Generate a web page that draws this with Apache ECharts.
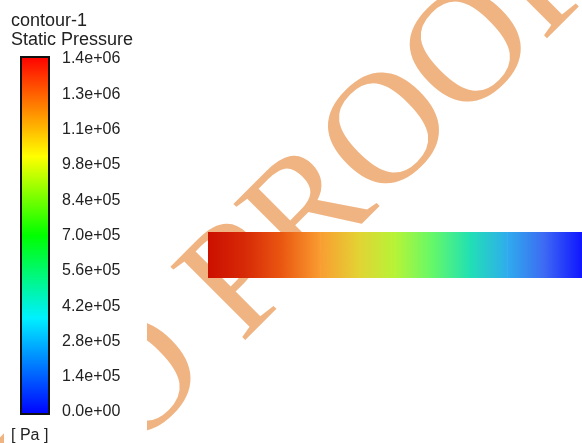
<!DOCTYPE html>
<html>
<head>
<meta charset="utf-8">
<script src="https://cdn.jsdelivr.net/npm/echarts@6/dist/echarts.min.js"></script>
<style>
  html, body { margin: 0; padding: 0; background: #ffffff; }
  #chart { width: 582px; height: 443px; }
</style>
</head>
<body>
<div id="chart"></div>
<script>
// Static pressure range shown on the legend bar [Pa]
const pressureMin = 0;
const pressureMax = 1.4e6;
const tickInterval = 1.4e5;
const tickLabels = ['0.0e+00', '1.4e+05', '2.8e+05', '4.2e+05', '5.6e+05', '7.0e+05',
                    '8.4e+05', '9.8e+05', '1.1e+06', '1.3e+06', '1.4e+06'];

// Stations along the pipe (axial position, mm) and static pressure there [Pa]
const pipeX = [0, 10, 20, 30, 40, 50, 60, 70, 80, 90, 100];
const pipePressure = [1.37e6, 1.24e6, 1.10e6, 0.96e6, 0.83e6, 0.70e6, 0.56e6, 0.43e6, 0.29e6, 0.15e6, 0.02e6];

// Legend colour map (normalised pressure -> colour)
const legendStops = [
  [0.00, '#0000ff'], [0.27, '#00f0ff'], [0.50, '#00ff00'], [0.72, '#ffff00'], [1.00, '#ff0000']
];
// Lit surface colour map used on the pipe wall
const surfaceStops = [
  [0.000, [12, 18, 255]], [0.014, [15, 20, 255]], [0.071, [40, 60, 250]], [0.123, [70, 125, 240]],
  [0.174, [60, 150, 250]], [0.226, [40, 185, 230]], [0.277, [30, 215, 200]], [0.329, [35, 230, 165]],
  [0.368, [70, 245, 130]], [0.432, [130, 250, 80]], [0.496, [180, 245, 55]], [0.561, [215, 225, 50]],
  [0.626, [240, 195, 55]], [0.664, [250, 170, 55]], [0.716, [248, 140, 40]], [0.767, [240, 100, 20]],
  [0.844, [220, 55, 10]], [0.922, [210, 30, 5]], [0.979, [204, 16, 0]], [1.000, [200, 12, 0]]
];

function surfaceColor(p) {
  const t = Math.max(0, Math.min(1, (p - pressureMin) / (pressureMax - pressureMin)));
  for (let i = 1; i < surfaceStops.length; i++) {
    const a = surfaceStops[i - 1], b = surfaceStops[i];
    if (t <= b[0]) {
      const f = (t - a[0]) / (b[0] - a[0] || 1);
      const c = a[1].map((v, k) => Math.round(v + (b[1][k] - v) * f));
      return 'rgb(' + c.join(',') + ')';
    }
  }
  const last = surfaceStops[surfaceStops.length - 1][1];
  return 'rgb(' + last.join(',') + ')';
}

const textFont = '"Liberation Sans", Arial, sans-serif';
const stampFont = '"Liberation Serif", "Times New Roman", serif';
const stampColor = '#f0b482';
const stampSize = 160;
const stampAngle = Math.PI / 4;
const stampAnchor = [350, 176];

const chart = echarts.init(document.getElementById('chart'), null, { renderer: 'canvas' });

chart.setOption({
  animation: false,
  backgroundColor: '#ffffff',
  title: {
    text: 'contour-1\nStatic Pressure',
    left: 6,
    top: 7,
    textStyle: { fontFamily: textFont, fontSize: 18, fontWeight: 'normal', color: '#222', lineHeight: 19 }
  },
  graphic: [
    // diagonal stamp, split at the first "O" of PROOF
    {
      type: 'text', x: stampAnchor[0], y: stampAnchor[1], rotation: stampAngle, z: -10, silent: true,
      style: { text: 'DO PR', fill: stampColor, fontFamily: stampFont, fontSize: stampSize, align: 'right', verticalAlign: 'middle' }
    },
    {
      type: 'text', x: stampAnchor[0], y: stampAnchor[1], rotation: stampAngle, z: -10, silent: true,
      style: { text: 'OOF', fill: stampColor, fontFamily: stampFont, fontSize: stampSize, align: 'left', verticalAlign: 'middle' }
    },
    // legend panel background
    {
      type: 'rect', z: -5, silent: true,
      shape: { x: 4, y: 0, width: 143, height: 443 },
      style: { fill: '#ffffff' }
    },
    {
      type: 'text', x: 11, y: 436, z: 10,
      style: { text: '[ Pa ]', fill: '#222', fontFamily: textFont, fontSize: 16, align: 'left', verticalAlign: 'middle' }
    }
  ],
  grid: [
    { left: 21, top: 59, width: 28, height: 353 },
    { left: 208, top: 232, right: 0, height: 46 }
  ],
  xAxis: [
    { gridIndex: 0, type: 'value', min: 0, max: 1, show: false },
    { gridIndex: 1, type: 'value', min: pipeX[0], max: pipeX[pipeX.length - 1], show: false }
  ],
  yAxis: [
    {
      gridIndex: 0, type: 'value', position: 'right',
      min: pressureMin, max: pressureMax, interval: tickInterval,
      splitLine: { show: false },
      axisLine: { show: false },
      axisTick: { show: true, inside: false, length: 3, lineStyle: { color: '#222', width: 1 } },
      axisLabel: {
        margin: 13, fontFamily: textFont, fontSize: 16, color: '#222',
        formatter: v => tickLabels[Math.round((v - pressureMin) / tickInterval)]
      }
    },
    { gridIndex: 1, type: 'value', min: 0, max: 1, show: false }
  ],
  series: [
    {
      // legend colour bar
      type: 'custom', xAxisIndex: 0, yAxisIndex: 0, silent: true,
      data: [[pressureMin, pressureMax]],
      renderItem: (params, api) => {
        const bottom = api.coord([0, api.value(0)]);
        const top = api.coord([1, api.value(1)]);
        const pad = 2;
        return {
          type: 'rect',
          shape: { x: bottom[0], y: top[1] - pad, width: top[0] - bottom[0], height: bottom[1] - top[1] + 2 * pad },
          style: {
            fill: new echarts.graphic.LinearGradient(0, 1, 0, 0,
              legendStops.map(s => ({ offset: s[0], color: s[1] }))),
            stroke: '#111', lineWidth: 2
          }
        };
      }
    },
    {
      // pipe wall coloured by static pressure
      type: 'custom', xAxisIndex: 1, yAxisIndex: 1, silent: true, z: 5,
      data: pipeX.map((x, i) => [x, pipePressure[i]]),
      renderItem: (params, api) => {
        const i = params.dataIndex;
        if (i >= pipeX.length - 1) return null;
        const a = api.coord([pipeX[i], 1]);
        const b = api.coord([pipeX[i + 1], 0]);
        return {
          type: 'rect',
          shape: { x: a[0], y: a[1], width: b[0] - a[0] + 0.6, height: b[1] - a[1] },
          style: {
            fill: new echarts.graphic.LinearGradient(0, 0, 1, 0, [
              { offset: 0, color: surfaceColor(pipePressure[i]) },
              { offset: 1, color: surfaceColor(pipePressure[i + 1]) }
            ])
          }
        };
      }
    }
  ]
});
</script>
</body>
</html>
